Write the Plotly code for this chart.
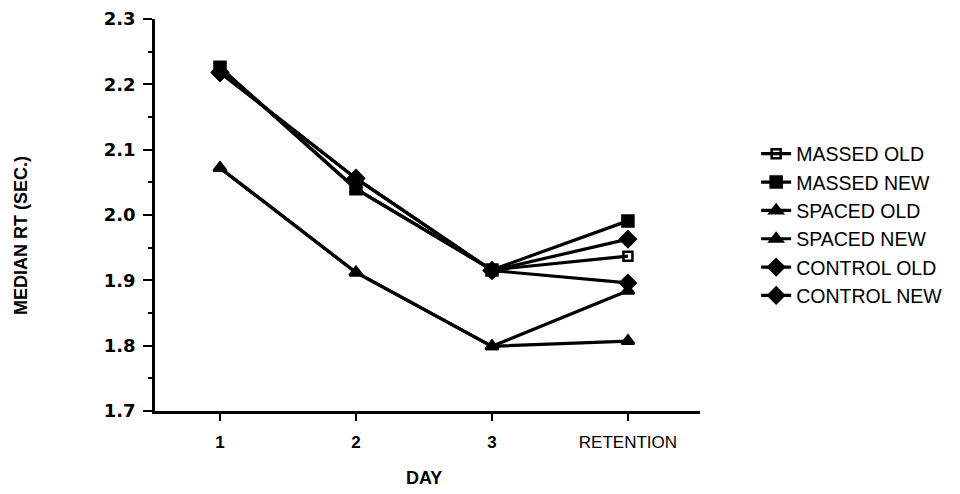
import plotly.graph_objects as go

days = ["<b>1</b>", "<b>2</b>", "<b>3</b>", "RETENTION"]
day_pos = [0, 1, 2, 3]
y_ticks = [1.7, 1.8, 1.9, 2.0, 2.1, 2.2, 2.3]
y_tick_text = ["1.7", "1.8", "1.9", "2.0", "2.1", "2.2", "2.3"]

massed_old = [2.226, 2.040, 1.916, 1.937]
massed_new = [2.226, 2.040, 1.916, 1.991]
spaced_old = [2.072, 1.912, 1.799, 1.807]
spaced_new = [2.072, 1.912, 1.799, 1.884]
control_old = [2.218, 2.056, 1.915, 1.896]
control_new = [2.218, 2.056, 1.915, 1.963]

series = [
    ("MASSED OLD", massed_old, "square-open", 9),
    ("MASSED NEW", massed_new, "square", 11),
    ("SPACED OLD", spaced_old, "triangle-up", 11),
    ("SPACED NEW", spaced_new, "triangle-up", 11),
    ("CONTROL OLD", control_old, "diamond", 12),
    ("CONTROL NEW", control_new, "diamond", 12),
]

fig = go.Figure()
for name, vals, sym, sz in series:
    fig.add_trace(go.Scatter(
        x=day_pos, y=vals, name=name, mode="lines+markers",
        line=dict(color="black", width=3.2),
        marker=dict(symbol=sym, size=sz, color="black",
                    line=dict(color="black", width=2.5)),
    ))

L, T, W, H = 147, 11, 545, 392

fig.update_layout(
    width=960, height=494,
    paper_bgcolor="white", plot_bgcolor="white",
    margin=dict(l=L, r=960 - L - W, t=T, b=494 - T - H),
    font=dict(family="Liberation Sans, Arial, sans-serif", color="black", size=15),
    showlegend=True,
    legend=dict(x=1.103, xanchor="left", y=(T + H - 126.5) / H, yanchor="top",
                font=dict(size=19.5, family="Liberation Sans, Arial"),
                itemwidth=30, tracegroupgap=0, bgcolor="rgba(0,0,0,0)"),
    xaxis=dict(
        range=[-0.478, 3.53], tickvals=day_pos, ticktext=days,
        showgrid=False, zeroline=False, automargin=False,
        showline=True, linecolor="black", linewidth=2.5,
        ticks="outside", ticklen=7, tickwidth=2, tickcolor="black",
        ticklabelstandoff=7,
        tickfont=dict(size=17, family="Liberation Sans, Arial"),
    ),
    yaxis=dict(
        range=[1.7, 2.3], tickvals=y_ticks, ticktext=y_tick_text,
        showgrid=False, zeroline=False, automargin=False,
        showline=True, linecolor="black", linewidth=2.5,
        ticks="outside", ticklen=9, tickwidth=2, tickcolor="black",
        ticklabelstandoff=4, ticklabeloverflow="allow",
        minor=dict(dtick=0.05, tick0=1.7, ticks="outside", ticklen=4, tickwidth=2,
                   tickcolor="black", showgrid=False),
        tickfont=dict(size=18, family="DejaVu Sans", weight="bold"),
    ),
    annotations=[
        dict(text="<b>DAY</b>", xref="paper", yref="paper", x=(416 - L) / W, y=(T + H - 470) / H,
             xanchor="center", yanchor="middle", showarrow=False,
             font=dict(size=18, family="Liberation Sans, Arial")),
        dict(text="<b>MEDIAN RT (SEC.)</b>", xref="paper", yref="paper", x=(13 - L) / W, y=(T + H - 228) / H,
             xanchor="center", yanchor="middle", showarrow=False, textangle=-90,
             font=dict(size=18, family="Liberation Sans, Arial")),
    ],
)

fig.write_html("out.html")
